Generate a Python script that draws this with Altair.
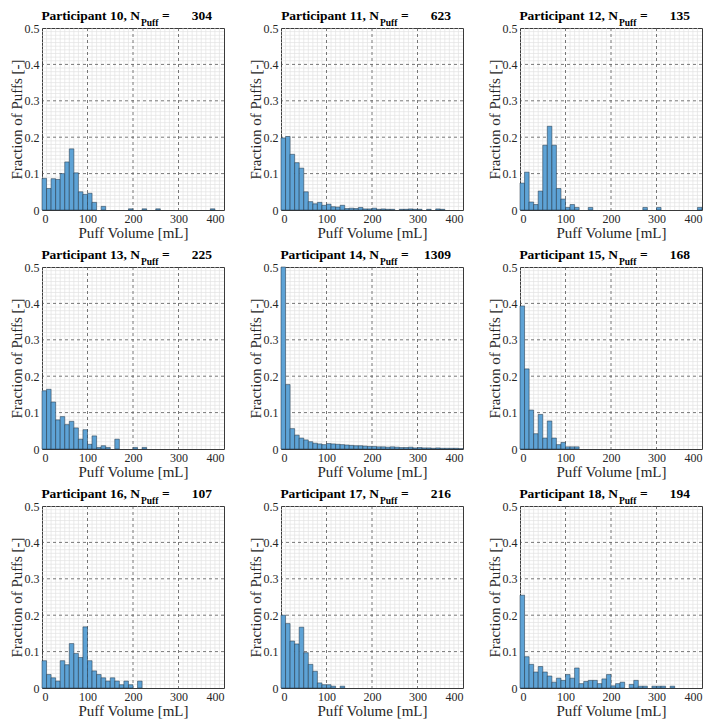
import altair as alt
import pandas as pd

participants = [10, 11, 12, 13, 14, 15, 16, 17, 18]
n_puffs = [304, 623, 135, 225, 1309, 168, 107, 216, 194]
bin_edges_lo = [i * 10 for i in range(40)]

p10 = [0.087, 0.059, 0.086, 0.084, 0.100, 0.132, 0.168, 0.102, 0.050, 0.043,
       0.046, 0.021, 0, 0.010, 0, 0, 0, 0, 0, 0.0033,
       0, 0, 0.0033, 0, 0, 0.0033, 0, 0, 0, 0,
       0, 0, 0, 0, 0, 0, 0, 0.0033, 0, 0]
p11 = [0.198, 0.202, 0.153, 0.130, 0.115, 0.050, 0.023, 0.017, 0.021, 0.013,
       0.016, 0.009, 0.008, 0.013, 0.004, 0.005, 0.004, 0.007, 0.003, 0.003,
       0.005, 0.002, 0.003, 0.002, 0.002, 0, 0.002, 0.002, 0.003, 0.002,
       0.002, 0, 0.002, 0, 0.003, 0.002, 0, 0, 0, 0]
p12 = [0.074, 0.104, 0.022, 0.015, 0.052, 0.178, 0.230, 0.178, 0.059, 0.030,
       0.007, 0.015, 0.007, 0, 0, 0.007, 0, 0, 0, 0,
       0, 0, 0, 0, 0, 0, 0, 0.007, 0, 0,
       0.007, 0, 0, 0, 0, 0, 0, 0, 0, 0.007]
p13 = [0.160, 0.164, 0.129, 0.080, 0.089, 0.067, 0.076, 0.058, 0.027, 0.053,
       0.013, 0.036, 0.0044, 0.009, 0.0044, 0, 0.027, 0, 0, 0,
       0.0044, 0, 0.0044, 0, 0, 0, 0, 0, 0, 0,
       0, 0, 0, 0, 0, 0, 0, 0, 0, 0]
p14 = [0.500, 0.177, 0.056, 0.038, 0.030, 0.025, 0.020, 0.016, 0.014, 0.012,
       0.015, 0.014, 0.013, 0.012, 0.011, 0.010, 0.009, 0.009, 0.008, 0.007,
       0.007, 0.006, 0.006, 0.005, 0.006, 0.005, 0.004, 0.004, 0.005, 0.003,
       0.004, 0.003, 0.003, 0.002, 0.003, 0.002, 0.002, 0.002, 0.002, 0.001]
p15 = [0.393, 0.220, 0.107, 0.042, 0.095, 0.030, 0.077, 0.030, 0.012, 0.018,
       0.006, 0.006, 0.006, 0, 0, 0, 0, 0, 0, 0,
       0, 0, 0, 0, 0, 0, 0, 0, 0, 0,
       0, 0, 0, 0, 0, 0, 0, 0, 0, 0]
p16 = [0.075, 0.037, 0.028, 0.019, 0.075, 0.064, 0.122, 0.095, 0.084, 0.168,
       0.075, 0.047, 0.037, 0.028, 0.019, 0.028, 0.019, 0.009, 0.019, 0.009,
       0, 0.019, 0, 0, 0, 0, 0, 0, 0, 0,
       0, 0, 0, 0, 0, 0, 0, 0, 0, 0]
p17 = [0.200, 0.177, 0.129, 0.121, 0.167, 0.097, 0.065, 0.046, 0.014, 0.009,
       0.009, 0.005, 0, 0.005, 0, 0, 0, 0, 0, 0,
       0, 0, 0, 0, 0, 0, 0, 0, 0, 0,
       0, 0, 0, 0, 0, 0, 0, 0, 0, 0]
p18 = [0.255, 0.086, 0.065, 0.044, 0.059, 0.044, 0.033, 0.016, 0.027, 0.021,
       0.037, 0.027, 0.055, 0.012, 0.018, 0.021, 0.021, 0.012, 0.025, 0.037,
       0.006, 0.012, 0.016, 0, 0.010, 0.021, 0.005, 0.005, 0, 0.005,
       0.005, 0.005, 0, 0.005, 0, 0, 0, 0, 0, 0]
fractions = [p10, p11, p12, p13, p14, p15, p16, p17, p18]

x_major = [0, 100, 200, 300, 400]
y_major = [0, 0.1, 0.2, 0.3, 0.4, 0.5]
x_minor = [v for v in range(10, 400, 10) if v % 100 != 0]
y_minor = [round(v * 0.01, 2) for v in range(1, 50) if v % 10 != 0]

FONT = "Liberation Serif"
INK = "#262626"
W, H = 182, 182

xs = alt.Scale(domain=[0, 400], nice=False, zero=False)
ys = alt.Scale(domain=[0, 0.5], nice=False)
xaxis = alt.Axis(values=x_major, format="d", grid=False, ticks=False, domain=False,
                 labelPadding=3, title="Puff Volume [mL]", titlePadding=1)
yaxis = alt.Axis(values=y_major, grid=False, ticks=False, domain=False,
                 labelPadding=3, title="Fraction of Puffs [-]", titlePadding=0,
                 labelExpr="datum.value == 0 ? '0' : format(datum.value, '.1f')")


def panel(pid, n, fr):
    df = pd.DataFrame({"lo": bin_edges_lo, "hi": [v + 10 for v in bin_edges_lo], "frac": fr})
    df = df[df["frac"] > 0]

    mx = alt.Chart(pd.DataFrame({"v": x_minor})).mark_rule(
        color="#e2e2e2", strokeWidth=0.7).encode(x=alt.X("v:Q", scale=xs, axis=xaxis))
    my = alt.Chart(pd.DataFrame({"v": y_minor})).mark_rule(
        color="#e2e2e2", strokeWidth=0.7).encode(y=alt.Y("v:Q", scale=ys, axis=yaxis))
    gx = alt.Chart(pd.DataFrame({"v": x_major[1:-1]})).mark_rule(
        color="#555555", strokeWidth=0.8, strokeDash=[3, 3]).encode(
        x=alt.X("v:Q", scale=xs, axis=xaxis))
    gy = alt.Chart(pd.DataFrame({"v": y_major[1:-1]})).mark_rule(
        color="#555555", strokeWidth=0.8, strokeDash=[3, 3]).encode(
        y=alt.Y("v:Q", scale=ys, axis=yaxis))
    bars = alt.Chart(df).mark_rect(color="#5ea3d6", stroke="#1c2f3f", strokeWidth=0.5).encode(
        x=alt.X("lo:Q", scale=xs, axis=xaxis), x2="hi:Q",
        y=alt.Y("frac:Q", scale=ys, axis=yaxis), y2=alt.datum(0))

    tdf = pd.DataFrame({"a": [f"Participant {pid}, N"], "b": ["Puff"], "c": ["="], "d": [str(n)]})
    base = alt.Chart(tdf)
    t1 = base.mark_text(align="right", baseline="alphabetic", font=FONT, fontSize=13.5,
                        fontWeight="bold", color="black").encode(
        x=alt.value(98), y=alt.value(-8), text="a:N")
    t2 = base.mark_text(align="left", baseline="alphabetic", font=FONT, fontSize=9.5,
                        fontWeight="bold", color="black").encode(
        x=alt.value(99), y=alt.value(-2.5), text="b:N")
    t3 = base.mark_text(align="left", baseline="alphabetic", font=FONT, fontSize=13.5,
                        fontWeight="bold", color="black").encode(
        x=alt.value(120), y=alt.value(-8), text="c:N")
    t4 = base.mark_text(align="right", baseline="alphabetic", font=FONT, fontSize=13.5,
                        fontWeight="bold", color="black").encode(
        x=alt.value(170), y=alt.value(-8), text="d:N")
    return alt.layer(mx, my, gx, gy, bars, t1, t2, t3, t4).properties(width=W, height=H)


panels = [panel(p, n, f) for p, n, f in zip(participants, n_puffs, fractions)]

chart = alt.concat(*panels, columns=3).properties(
    bounds="flush", padding={"left": 0, "top": 0, "right": 0, "bottom": 0}
).configure_view(stroke="#3a3a3a", strokeWidth=1).configure_axis(
    labelFont=FONT, labelFontSize=12, labelColor=INK,
    titleFont=FONT, titleFontSize=15, titleFontWeight="normal", titleColor=INK
).configure_concat(spacing=57)

chart.save("out.html", embed_options={"renderer": "svg", "actions": False})
